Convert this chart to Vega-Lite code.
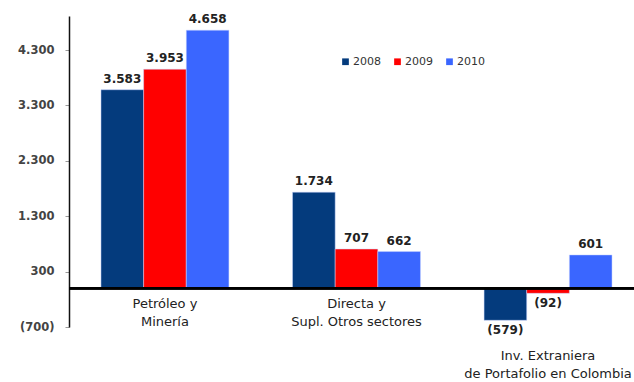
{
  "$schema": "https://vega.github.io/schema/vega-lite/v6.json",
  "autosize": "none",
  "width": 565,
  "height": 311,
  "padding": {"left": 69, "top": 16, "right": 0, "bottom": 55},
  "background": "white",
  "config": {
    "view": {"stroke": null},
    "locale": {"number": {"decimal": ",", "thousands": ".", "grouping": [3], "currency": ["$", ""]}},
    "font": "DejaVu Sans"
  },
  "data": {
    "values": [
      {"cat": "Petróleo y\nMinería", "year": "2008", "value": 3583},
      {"cat": "Petróleo y\nMinería", "year": "2009", "value": 3953},
      {"cat": "Petróleo y\nMinería", "year": "2010", "value": 4658},
      {"cat": "Directa y\nSupl. Otros sectores", "year": "2008", "value": 1734},
      {"cat": "Directa y\nSupl. Otros sectores", "year": "2009", "value": 707},
      {"cat": "Directa y\nSupl. Otros sectores", "year": "2010", "value": 662},
      {"cat": "Inv. Extraniera\nde Portafolio en Colombia", "year": "2008", "value": -579},
      {"cat": "Inv. Extraniera\nde Portafolio en Colombia", "year": "2009", "value": -92},
      {"cat": "Inv. Extraniera\nde Portafolio en Colombia", "year": "2010", "value": 601}
    ]
  },
  "encoding": {
    "x": {"field": "cat", "type": "nominal", "sort": null, "axis": null,
          "scale": {"range": [0, 575], "paddingInner": 0.332, "paddingOuter": 0.167}},
    "y": {"field": "value", "type": "quantitative",
          "scale": {"domain": [-700, 4914], "nice": false, "zero": false},
          "axis": {"values": [-700, 300, 1300, 2300, 3300, 4300], "format": "(,.0f", "title": null,
                   "grid": false, "domainColor": "#111", "domainWidth": 1.5, "tickColor": "#999",
                   "tickSize": 4, "labelPadding": 11, "labelFontSize": 11.5, "labelFontWeight": "bold",
                   "labelColor": "#444", "labelFont": "DejaVu Sans"}}
  },
  "layer": [
    {
      "mark": {"type": "bar", "stroke": "#c8d4ff", "strokeWidth": 0.5},
      "encoding": {
        "xOffset": {"field": "year", "type": "nominal"},
        "color": {"field": "year", "type": "nominal",
                  "scale": {"domain": ["2008", "2009", "2010"], "range": ["#043B7D", "#FF0000", "#3A66FF"]},
                  "legend": {"title": null, "orient": "none", "legendX": 271, "legendY": 40,
                             "direction": "horizontal", "symbolType": "square", "symbolSize": 45,
                             "symbolStrokeWidth": 0, "labelFontSize": 11, "labelColor": "#333",
                             "labelOffset": 2, "columnPadding": 11, "labelFont": "DejaVu Sans"}}
      }
    },
    {
      "transform": [{"filter": "datum.value >= 0"}],
      "mark": {"type": "text", "baseline": "bottom", "dy": -4, "fontSize": 12, "fontWeight": "bold", "color": "#222", "font": "DejaVu Sans"},
      "encoding": {
        "xOffset": {"field": "year", "type": "nominal"},
        "text": {"field": "value", "type": "quantitative", "format": "(,.0f"}
      }
    },
    {
      "transform": [{"filter": "datum.value < 0"}],
      "mark": {"type": "text", "baseline": "top", "dy": 5, "fontSize": 12, "fontWeight": "bold", "color": "#222", "font": "DejaVu Sans"},
      "encoding": {
        "xOffset": {"field": "year", "type": "nominal"},
        "text": {"field": "value", "type": "quantitative", "format": "(,.0f"}
      }
    },
    {
      "mark": {"type": "rule", "color": "#000", "strokeWidth": 2},
      "encoding": {"y": {"datum": 0}, "x": null}
    },
    {
      "transform": [
        {"joinaggregate": [{"op": "min", "field": "value", "as": "minv"}], "groupby": ["cat"]},
        {"filter": "datum.year == '2008'"},
        {"calculate": "datum.minv < 0 ? datum.minv - 350 : 0", "as": "ly"}
      ],
      "mark": {"type": "text", "baseline": "top", "dy": 10, "fontSize": 13, "color": "#222", "lineBreak": "\n", "lineHeight": 18, "font": "DejaVu Sans"},
      "encoding": {
        "y": {"field": "ly", "type": "quantitative"},
        "text": {"field": "cat", "type": "nominal"}
      }
    }
  ]
}
